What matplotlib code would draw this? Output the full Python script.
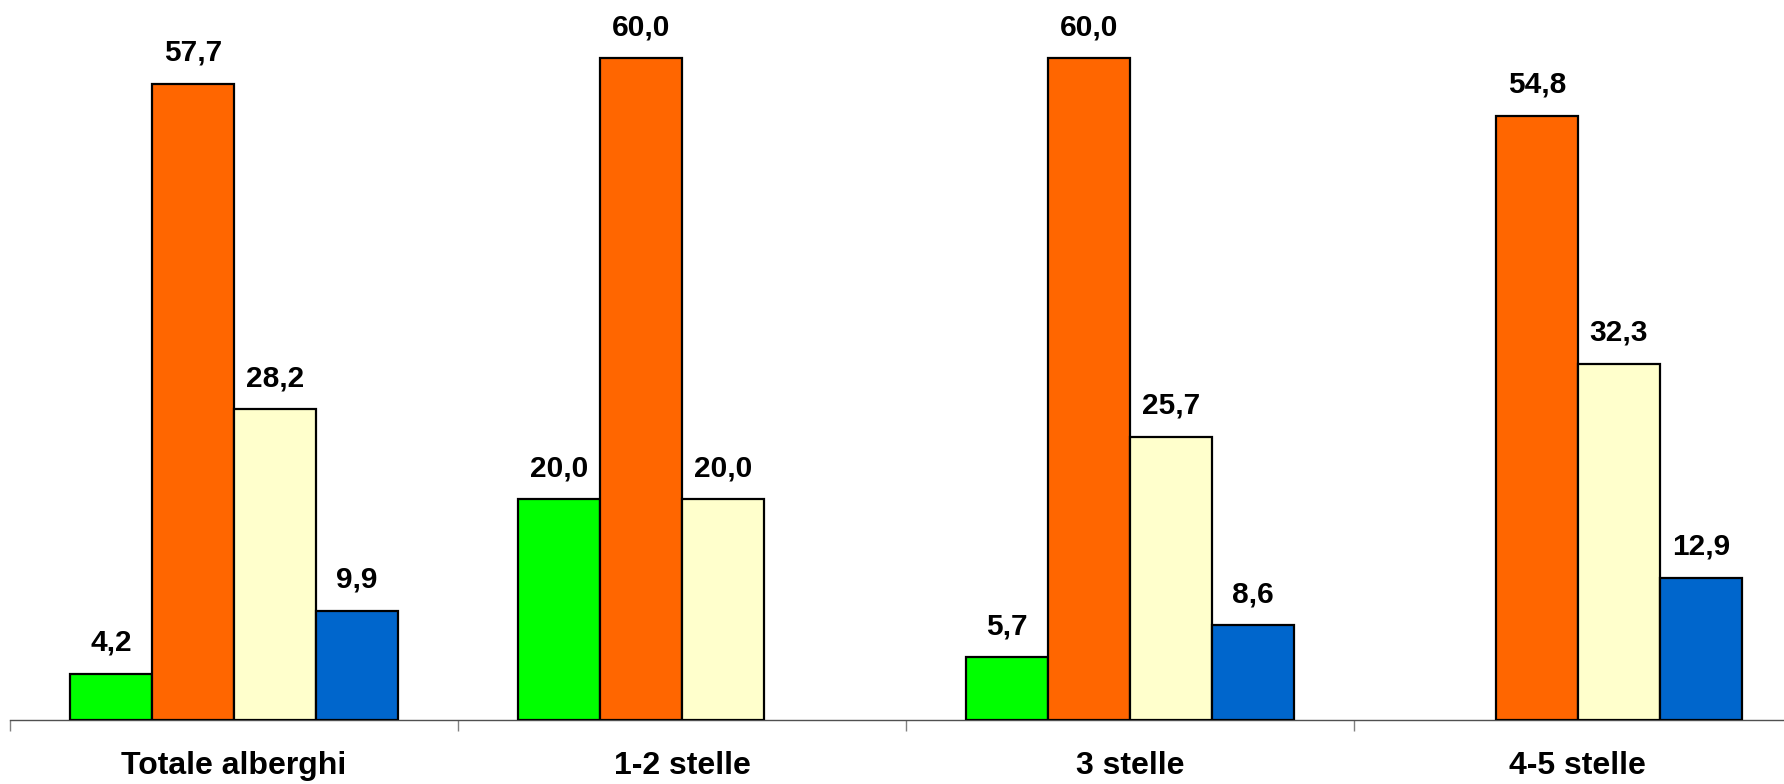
import numpy as np
import matplotlib.pyplot as plt

plt.rcParams['font.family'] = ['Liberation Sans', 'DejaVu Sans']

categories = ['Totale alberghi', '1-2 stelle', '3 stelle', '4-5 stelle']
# four series per category (None = bar absent)
serie_verde = [4.2, 20.0, 5.7, None]
serie_arancio = [57.7, 60.0, 60.0, 54.8]
serie_giallo = [28.2, 20.0, 25.7, 32.3]
serie_blu = [9.9, None, 8.6, 12.9]

series = [serie_verde, serie_arancio, serie_giallo, serie_blu]
colors = ['#00FF00', '#FF6600', '#FFFFCC', '#0066CC']

W, H = 1784, 784
fig = plt.figure(figsize=(W / 100, H / 100), dpi=100)
ax = fig.add_axes([10 / W, (H - 720) / H, (W - 10) / W, 720 / H])

x = np.arange(len(categories))
w = 0.183
for i, (vals, col) in enumerate(zip(series, colors)):
    off = (i - 1.5) * w
    for xi, v in zip(x, vals):
        if v is None:
            continue
        ax.bar(xi + off, v, w, color=col, edgecolor='black', linewidth=1.6, zorder=3)
        ax.annotate(f'{v:.1f}'.replace('.', ','), (xi + off, v),
                    xytext=(0, 16.5), textcoords='offset points',
                    ha='center', va='baseline', fontsize=21.5, fontweight='bold')

ax.set_xticks(x)
ax.set_xticklabels(categories, fontsize=23, fontweight='bold')
ax.set_xticks(np.arange(-0.5, 4, 1), minor=True)
ax.set_xlim(-0.5, 3.46)
ax.set_ylim(0, 65.3)
ax.tick_params(axis='x', which='major', length=0, pad=22)
ax.tick_params(axis='x', which='minor', length=8, color='#808080', width=1, direction='out')
ax.set_yticks([])
for s in ['top', 'right', 'left']:
    ax.spines[s].set_visible(False)
ax.spines['bottom'].set_color('#505050')
ax.spines['bottom'].set_linewidth(1)

fig.savefig('out.png', dpi=100)
